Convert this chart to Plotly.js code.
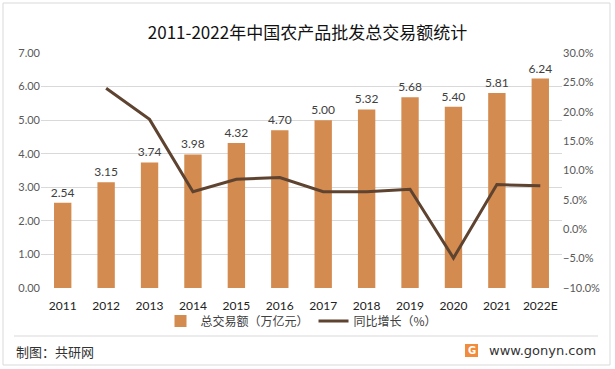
<!DOCTYPE html>
<html>
<head>
<meta charset="utf-8">
<script src="https://cdn.plot.ly/plotly-3.0.1.min.js"></script>
<style>html,body{margin:0;padding:0;background:#fff;}#chart{width:615px;height:369px;}</style>
</head>
<body>
<div id="chart"></div>
<script>
const years = ["2011","2012","2013","2014","2015","2016","2017","2018","2019","2020","2021","2022E"];
const totalTrade = [2.54, 3.15, 3.74, 3.98, 4.32, 4.70, 5.00, 5.32, 5.68, 5.40, 5.81, 6.24];
const yoyGrowth = [null, 24.0, 18.7, 6.4, 8.5, 8.8, 6.4, 6.4, 6.8, -4.9, 7.6, 7.4];
const barName = "总交易额（万亿元）";
const lineName = "同比增长（%）";
const titleText = "2011-2022年中国农产品批发总交易额统计";
const sourceText = "制图：共研网";
const siteText = "www.gonyn.com";

const W = 615, H = 369;
const mL = 41, mR = 53, mT = 53, mB = 81;
const pw = W - mL - mR, ph = H - mT - mB;
const px = x => (x - mL) / pw;
const py = y => (H - mB - y) / ph;

const FONT = "Lato, 'Noto Sans CJK SC', sans-serif";
const CJK = "'Noto Sans CJK SC', sans-serif";

const traces = [
  {
    type: "bar", x: years, y: totalTrade, name: barName,
    marker: {color: "#D38B4F"}, width: 0.4,
    text: totalTrade.map(v => v.toFixed(2)), textposition: "outside", constraintext: "none",
    textfont: {family: FONT, size: 12, color: "#404040"},
    cliponaxis: false, hoverinfo: "skip"
  },
  {
    type: "scatter", mode: "lines", x: years, y: yoyGrowth, name: lineName,
    yaxis: "y2", line: {color: "#5E4330", width: 3}, connectgaps: false
  }
];

const layout = {
  width: W, height: H,
  margin: {l: mL, r: mR, t: mT, b: mB},
  paper_bgcolor: "#fff", plot_bgcolor: "#fff",
  font: {family: FONT, color: "#595959", size: 11},
  title: {text: titleText, font: {family: CJK, size: 17, color: "#111"}, x: 0.5, xanchor: "center", y: 1 - 33/H, yanchor: "middle"},
  bargap: 0.6,
  xaxis: {
    type: "category", showgrid: false, zeroline: false, showline: false, ticks: "",
    tickfont: {family: FONT, size: 12, color: "#222"}, automargin: false, ticklabelstandoff: 9
  },
  yaxis: {
    range: [0, 7], dtick: 1, tickformat: ".2f", showgrid: true, gridcolor: "#D9D9D9", gridwidth: 1,
    zeroline: false, showline: false, ticks: "", tickfont: {size: 11, color: "#595959"}, automargin: false
  },
  yaxis2: {
    overlaying: "y", side: "right", range: [-10, 30], dtick: 5, tickformat: ".1f", ticksuffix: "%",
    showgrid: false, zeroline: false, showline: false, ticks: "", tickfont: {size: 11, color: "#595959"}, automargin: false
  },
  showlegend: true,
  legend: {
    orientation: "h", x: 0.5, xanchor: "center", y: py(321), yanchor: "middle",
    font: {family: CJK, size: 12, color: "#404040"}, itemwidth: 30, traceorder: "normal", bgcolor: "rgba(0,0,0,0)"
  },
  shapes: [
    {type: "rect", xref: "paper", yref: "paper", x0: px(3), x1: px(610), y0: py(365), y1: py(3), line: {color: "#D9D9D9", width: 1}},
    {type: "line", xref: "paper", yref: "paper", x0: px(14), x1: px(598), y0: py(336), y1: py(336), line: {color: "#D9D9D9", width: 1}},
    {type: "rect", xref: "paper", yref: "paper", x0: px(465), x1: px(478), y0: py(357), y1: py(344), line: {width: 0}, fillcolor: "#F08C3C"}
  ],
  annotations: [
    {text: sourceText, xref: "paper", yref: "paper", x: px(14), y: py(351), xanchor: "left", yanchor: "middle", showarrow: false,
     font: {family: CJK, size: 13, color: "#333"}},
    {text: siteText, xref: "paper", yref: "paper", x: px(598), y: py(350), xanchor: "right", yanchor: "middle", showarrow: false,
     font: {family: "'DejaVu Sans', sans-serif", size: 13, color: "#333"}},
    {text: "<b>G</b>", xref: "paper", yref: "paper", x: px(471.5), y: py(350.5), xanchor: "center", yanchor: "middle", showarrow: false,
     font: {family: "'DejaVu Sans', sans-serif", size: 10, color: "#fff"}}
  ]
};

Plotly.newPlot("chart", traces, layout, {staticPlot: true, displayModeBar: false});
</script>
</body>
</html>
